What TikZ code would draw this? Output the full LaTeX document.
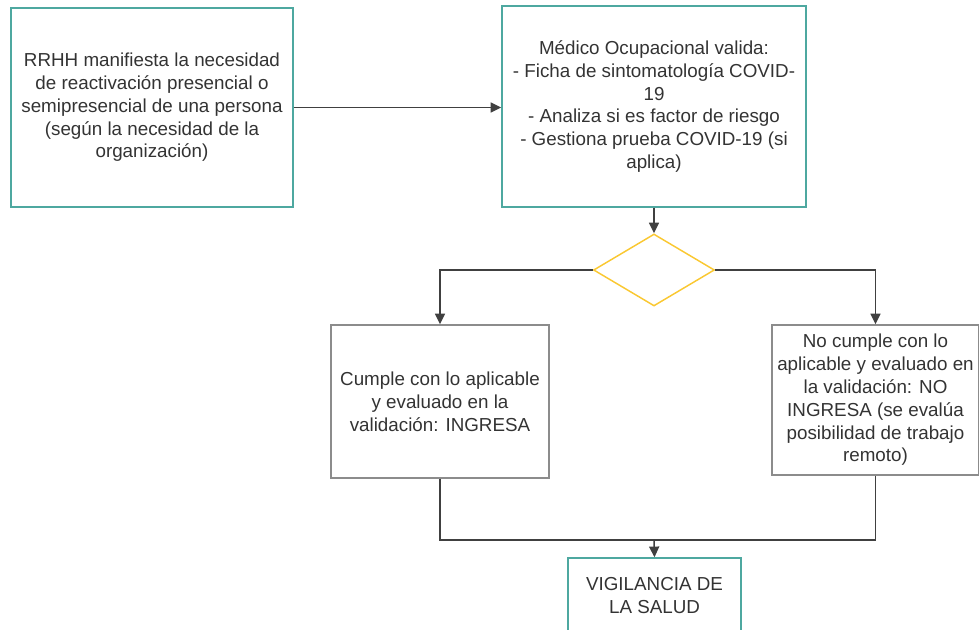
\documentclass[tikz,border=0pt]{standalone}
\usepackage{fontspec}
\setmainfont{Liberation Sans}
\usepackage{tikz}
\usetikzlibrary{arrows.meta,shapes.geometric}
\definecolor{ocuteal}{RGB}{78,168,160}
\definecolor{ocugrey}{RGB}{140,140,140}
\definecolor{ocugold}{RGB}{250,200,50}
\definecolor{ocutext}{RGB}{51,51,51}
\definecolor{oculine}{RGB}{64,64,64}
\tikzset{
	procbox/.style={draw=ocuteal, line width=1.1pt, align=center, inner sep=0pt, text=ocutext, font=\fontsize{14.1}{17.1}\selectfont},
	outbox/.style={procbox, draw=ocugrey},
	decision/.style={diamond, draw=ocugold, line width=1.1pt, inner sep=0pt},
	flow/.style={draw=oculine, line width=1.15pt, -{Triangle[length=8pt,width=7.5pt]}}
}

\begin{document}
\begin{tikzpicture}[x=0.75pt, y=-0.75pt]
			%%%%% START %%%%%
			\clip (0, 0) rectangle (979, 630);
			\useasboundingbox (0, 0) rectangle (979, 630);
			
			\node[procbox, minimum width=211.5pt, minimum height=149.25pt] (rrhh) at (152, 107.5) {RRHH manifiesta la necesidad\\de reactivación presencial o\\semipresencial de una persona\\(según la necesidad de la\\organización)};
			\node[procbox, minimum width=228pt, minimum height=150.75pt] (medico) at (654, 106.5) {Médico Ocupacional valida:\\- Ficha de sintomatología COVID-\\19\\- Analiza si es factor de riesgo\\- Gestiona prueba COVID-19 (si\\aplica)};
			
			\node[decision, minimum width=90.75pt, minimum height=54pt] (valida) at (654, 270) {};
			
			\node[outbox, minimum width=163.5pt, minimum height=114.75pt] (cumple) at (440, 401.5) {Cumple con lo aplicable\\y evaluado en la\\validación: INGRESA};
			\node[outbox, minimum width=155.25pt, minimum height=112.5pt] (nocumple) at (875.5, 400) {No cumple con lo\\aplicable y evaluado en\\la validación: NO\\INGRESA (se evalúa\\posibilidad de trabajo\\remoto)};
			
			\node[procbox, minimum width=129.75pt, minimum height=56.25pt] (vigilancia) at (654.5, 595.5) {VIGILANCIA DE\\LA SALUD};
			
			\coordinate (union) at (654, 540);
			
			\draw[flow] (rrhh.east) -- (rrhh.east -| medico.west);
			\draw[flow] (medico.south) -- (valida.north);
			\draw[flow] (valida.west) -| (cumple.north);
			\draw[flow] (valida.east) -| (nocumple.north);
			\draw[draw=oculine, line width=1.15pt] (cumple.south) |- (union);
			\draw[draw=oculine, line width=1.15pt] (nocumple.south) |- (union);
			\draw[flow] (union) -- (vigilancia.north);
			
			%%%%% END %%%%%
\end{tikzpicture}
\end{document}
